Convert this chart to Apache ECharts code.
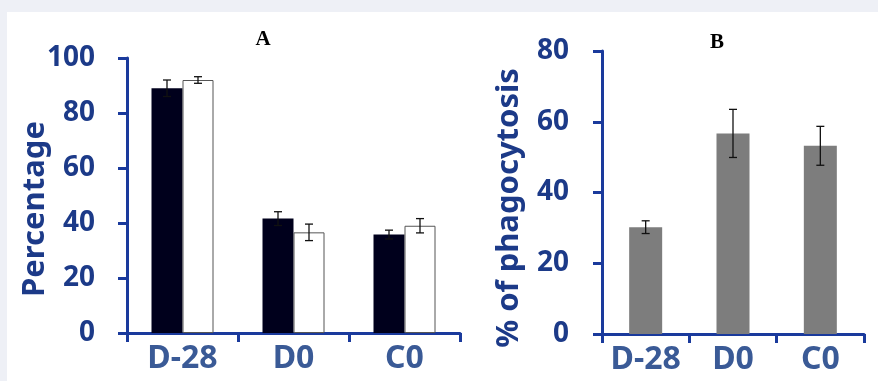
<!DOCTYPE html>
<html><head><meta charset="utf-8">
<script src="https://cdn.jsdelivr.net/npm/echarts@6/dist/echarts.min.js"></script>
<style>html,body{margin:0;padding:0;background:#eef0f6;}#c{width:878px;height:381px;}</style>
</head><body><div id="c"></div>
<script>
const catsA = ['D-28', 'D0', 'C0'];
const blackA = [89, 41.6, 35.8];
const blackErrA = [3, 2.5, 1.6];
const whiteA = [92, 36.6, 39];
const whiteErrA = [1.2, 3, 2.6];
const ticksA = [0, 20, 40, 60, 80, 100];

const catsB = ['D-28', 'D0', 'C0'];
const valsB = [30.2, 56.7, 53.2];
const errB = [1.8, 6.8, 5.5];
const ticksB = [0, 20, 40, 60, 80];

const AXIS = '#1a3a9c';
const YLAB = '#1c3a88';
const XLAB = '#3a5a96';
const FONT = '"Noto Sans", sans-serif';

function errSeries(name, xIdx, vals, errs, offset, capW) {
  return {
    name: name, type: 'custom', xAxisIndex: xIdx, yAxisIndex: xIdx, z: 5,
    data: vals.map((v, i) => [i, v, errs[i]]),
    renderItem: function (params, api) {
      const i = api.value(0), v = api.value(1), e = api.value(2);
      const hi = api.coord([i, v + e]);
      const lo = api.coord([i, v - e]);
      const x = hi[0] + offset;
      const st = { stroke: '#111', lineWidth: 1.3 };
      return { type: 'group', children: [
        { type: 'line', shape: { x1: x, y1: hi[1], x2: x, y2: lo[1] }, style: st },
        { type: 'line', shape: { x1: x - capW / 2, y1: hi[1], x2: x + capW / 2, y2: hi[1] }, style: st },
        { type: 'line', shape: { x1: x - capW / 2, y1: lo[1], x2: x + capW / 2, y2: lo[1] }, style: st }
      ]};
    }
  };
}

function yAxisCfg(idx, max, margin) {
  return {
    gridIndex: idx, type: 'value', min: 0, max: max, interval: 20,
    axisLine: { show: true, lineStyle: { color: AXIS, width: 3 } },
    axisTick: { show: true, length: 9, lineStyle: { color: AXIS, width: 3 } },
    splitLine: { show: false },
    axisLabel: { color: YLAB, fontSize: 28, fontWeight: 'bold', fontFamily: FONT, margin: margin }
  };
}
function xAxisCfg(idx, cats) {
  return {
    gridIndex: idx, type: 'category', data: cats,
    axisLine: { show: true, lineStyle: { color: AXIS, width: 3 } },
    axisTick: { show: true, interval: 0, length: 9, alignWithLabel: false, lineStyle: { color: AXIS, width: 3 } },
    axisLabel: { interval: 0, hideOverlap: false, color: XLAB, fontSize: 32, fontWeight: 'bold', fontFamily: FONT, margin: 10 }
  };
}

const chart = echarts.init(document.getElementById('c'));
chart.setOption({
  backgroundColor: '#eef0f6',
  animation: false,
  graphic: [
    { type: 'rect', z: -10, shape: { x: 7, y: 12, width: 871, height: 369 }, style: { fill: '#ffffff' } },
    { type: 'text', x: 263, y: 40, style: { text: 'A', font: 'bold 21px "Liberation Serif", serif', fill: '#000', align: 'center', verticalAlign: 'middle' } },
    { type: 'text', x: 717, y: 43, style: { text: 'B', font: 'bold 21px "Liberation Serif", serif', fill: '#000', align: 'center', verticalAlign: 'middle' } },
    { type: 'text', x: 35, y: 209, rotation: Math.PI / 2, style: { text: 'Percentage', font: 'bold 31px "Noto Sans", sans-serif', fill: YLAB, align: 'center', verticalAlign: 'middle' } },
    { type: 'text', x: 509, y: 208, rotation: Math.PI / 2, style: { text: '% of phagocytosis', font: 'bold 31px "Noto Sans", sans-serif', fill: YLAB, align: 'center', verticalAlign: 'middle' } }
  ],
  grid: [
    { left: 127, top: 58, width: 333, height: 275 },
    { left: 602, top: 51, width: 262, height: 283 }
  ],
  xAxis: [xAxisCfg(0, catsA), xAxisCfg(1, catsB)],
  yAxis: [yAxisCfg(0, 100, 32), yAxisCfg(1, 80, 33)],
  series: [
    { type: 'bar', xAxisIndex: 0, yAxisIndex: 0, data: blackA, barWidth: 31, barGap: '0%',
      itemStyle: { color: '#00001c' } },
    { type: 'bar', xAxisIndex: 0, yAxisIndex: 0, data: whiteA, barWidth: 31, barGap: '0%',
      itemStyle: { color: '#ffffff', borderColor: '#555', borderWidth: 1 } },
    errSeries('eb1', 0, blackA, blackErrA, -15.5, 8),
    errSeries('eb2', 0, whiteA, whiteErrA, 15.5, 8),
    { type: 'bar', xAxisIndex: 1, yAxisIndex: 1, data: valsB, barWidth: 33,
      itemStyle: { color: '#7d7d7d' } },
    errSeries('eb3', 1, valsB, errB, 0, 8)
  ]
});
</script></body></html>
